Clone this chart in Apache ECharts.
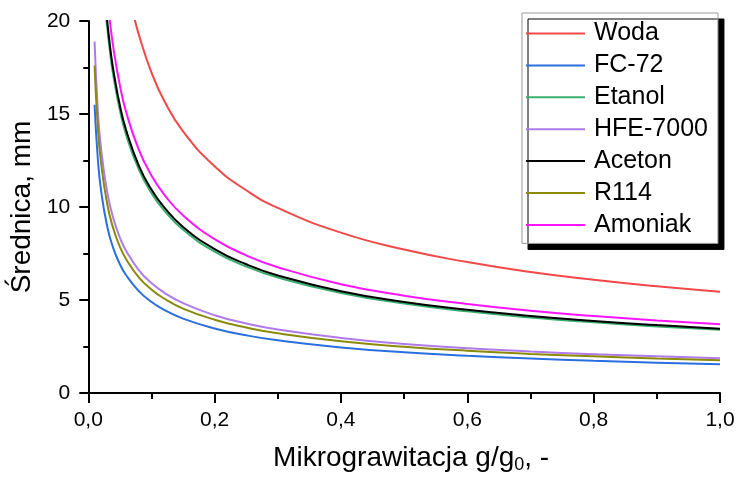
<!DOCTYPE html>
<html>
<head>
<meta charset="utf-8">
<script src="https://cdn.jsdelivr.net/npm/echarts@6/dist/echarts.min.js"></script>
<style>html,body{margin:0;padding:0;background:#fff}#c{width:739px;height:479px}</style>
</head>
<body>
<div id="c"></div>
<script>
// Data
const seriesNames = ['Woda', 'FC-72', 'Etanol', 'HFE-7000', 'Aceton', 'R114', 'Amoniak'];

const xLow = [0.01, 0.015, 0.02, 0.03, 0.04, 0.05, 0.06, 0.08, 0.1, 0.12, 0.15, 0.2, 0.25, 0.3, 0.4, 0.5, 0.6, 0.7, 0.8, 0.9, 1.0];
const fc72 = [15.5, 12.65, 10.96, 8.95, 7.75, 6.93, 6.33, 5.48, 4.90, 4.47, 4.00, 3.47, 3.10, 2.83, 2.45, 2.19, 2.00, 1.85, 1.73, 1.63, 1.55];
const hfe7000 = [18.9, 15.27, 13.22, 10.80, 9.35, 8.36, 7.64, 6.61, 5.91, 5.40, 4.83, 4.18, 3.74, 3.41, 2.96, 2.64, 2.41, 2.23, 2.09, 1.97, 1.87];
const r114 = [17.6, 14.37, 12.45, 10.16, 8.80, 7.87, 7.19, 6.22, 5.57, 5.08, 4.54, 3.94, 3.52, 3.21, 2.78, 2.49, 2.27, 2.10, 1.97, 1.86, 1.76];

const xMid = [0.0285, 0.035, 0.04, 0.05, 0.06, 0.08, 0.1, 0.12, 0.15, 0.2, 0.25, 0.3, 0.4, 0.5, 0.6, 0.7, 0.8, 0.9, 1.0];
const aceton = [20.5, 18.49, 17.30, 15.47, 14.13, 12.23, 10.94, 9.99, 8.93, 7.74, 6.92, 6.32, 5.47, 4.89, 4.47, 4.14, 3.87, 3.65, 3.46];
const etanol = [20.14, 18.17, 17.00, 15.21, 13.88, 12.02, 10.75, 9.82, 8.78, 7.60, 6.80, 6.21, 5.38, 4.81, 4.39, 4.06, 3.80, 3.58, 3.40];

const xAmon = [0.033, 0.04, 0.05, 0.06, 0.08, 0.1, 0.12, 0.15, 0.2, 0.25, 0.3, 0.4, 0.5, 0.6, 0.7, 0.8, 0.9, 1.0];
const amoniak = [20.36, 18.5, 16.55, 15.11, 13.08, 11.70, 10.68, 9.55, 8.27, 7.40, 6.76, 5.85, 5.23, 4.78, 4.42, 4.14, 3.90, 3.70];

const xWoda = [0.073, 0.08, 0.1, 0.12, 0.15, 0.2, 0.25, 0.3, 0.4, 0.5, 0.6, 0.7, 0.8, 0.9, 1.0];
const woda = [20.17, 19.27, 17.24, 15.73, 14.07, 12.19, 10.9, 9.95, 8.62, 7.71, 7.04, 6.51, 6.09, 5.74, 5.45];

const xTicks = ['0,0', '0,2', '0,4', '0,6', '0,8', '1,0'];
const yTicks = [0, 5, 10, 15, 20];

const colors = {
  'Woda': '#f24848', 'FC-72': '#2a6fe0', 'Etanol': '#3aae6e', 'HFE-7000': '#b07be8',
  'Aceton': '#000000', 'R114': '#8c8a0a', 'Amoniak': '#ff14ff'
};

function pairs(xs, ys) { return xs.map((x, i) => [x, ys[i]]); }
const dataMap = {
  'Woda': pairs(xWoda, woda),
  'FC-72': pairs(xLow, fc72),
  'Etanol': pairs(xMid, etanol),
  'HFE-7000': pairs(xLow, hfe7000),
  'Aceton': pairs(xMid, aceton),
  'R114': pairs(xLow, r114),
  'Amoniak': pairs(xAmon, amoniak)
};

const FONT = 'Arial, "Liberation Sans", sans-serif';
const chart = echarts.init(document.getElementById('c'), null, { renderer: 'canvas' });
chart.setOption({
  animation: false,
  backgroundColor: '#fff',
  textStyle: { fontFamily: FONT, color: '#000' },
  grid: { left: 86, right: 19, top: 21, bottom: 83, containLabel: false },
  legend: {
    orient: 'vertical',
    left: 522, top: 13,
    width: 194,
    padding: [8, 10, 6, 4],
    itemGap: 6.9,
    itemWidth: 59, itemHeight: 2,
    icon: 'rect',
    backgroundColor: '#fff',
    borderColor: '#999',
    borderWidth: 1,
    borderRadius: 0,
    shadowColor: '#000',
    shadowBlur: 0,
    shadowOffsetX: 6,
    shadowOffsetY: 6,
    textStyle: { fontFamily: FONT, fontSize: 25, color: '#000', lineHeight: 24, padding: [0, 0, 0, 4] },
    data: seriesNames.map(n => ({ name: n, itemStyle: { color: colors[n] } }))
  },
  xAxis: {
    type: 'value', min: 0, max: 1, interval: 0.2,
    name: 'Mikrograwitacja g/g{s|0}, -',
    nameLocation: 'middle', nameGap: 49,
    nameTextStyle: { fontFamily: FONT, fontSize: 28, color: '#000', padding: [0, 0, 0, 14],
      rich: { s: { fontSize: 18, verticalAlign: 'bottom', padding: [14, 0, 0, 0], fontFamily: FONT } } },
    axisLine: { lineStyle: { color: '#000', width: 2 } },
    axisTick: { show: true, length: 10, lineStyle: { color: '#000', width: 2 } },
    minorTick: { show: true, splitNumber: 2, length: 6, lineStyle: { color: '#000', width: 2 } },
    axisLabel: { fontSize: 21, color: '#000', margin: 17, fontFamily: FONT,
      formatter: v => xTicks[Math.round(v / 0.2)] },
    splitLine: { show: false }
  },
  yAxis: {
    type: 'value', min: 0, max: 20, interval: 5,
    name: 'Średnica, mm',
    nameLocation: 'middle', nameGap: 46,
    nameTextStyle: { fontFamily: FONT, fontSize: 28, color: '#000' },
    axisLine: { show: true, lineStyle: { color: '#000', width: 2 } },
    axisTick: { show: true, length: 9, lineStyle: { color: '#000', width: 2 } },
    minorTick: { show: true, splitNumber: 2, length: 5, lineStyle: { color: '#000', width: 2 } },
    axisLabel: { fontSize: 21, color: '#000', margin: 18, fontFamily: FONT,
      formatter: v => String(yTicks[Math.round(v / 5)]) },
    splitLine: { show: false }
  },
  series: seriesNames.map(n => ({
    name: n, type: 'line', data: dataMap[n],
    showSymbol: false, symbol: 'none',
    smooth: 0.5,
    clip: true,
    lineStyle: { color: colors[n], width: 2 },
    itemStyle: { color: colors[n] },
    z: n === 'Aceton' ? 3 : 2
  }))
});
</script>
</body>
</html>
